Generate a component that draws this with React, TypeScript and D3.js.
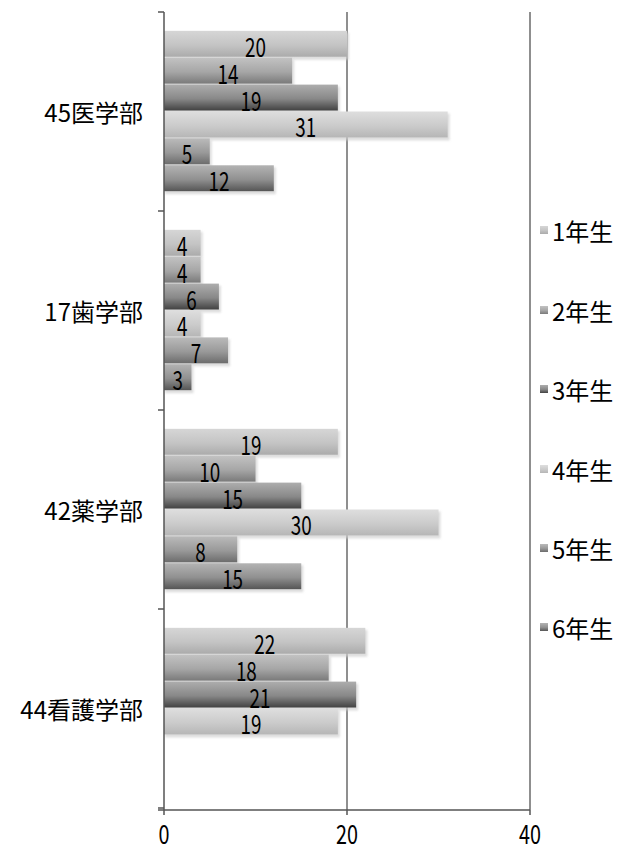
import React from "react";
import * as d3 from "d3";

// Faculties (top to bottom) with their enrolment totals as part of the label
const categories = ["45医学部", "17歯学部", "42薬学部", "44看護学部"];
const seriesNames = ["1年生", "2年生", "3年生", "4年生", "5年生", "6年生"];

// Students per year, one array per faculty (null = year does not exist)
const igakubu = [20, 14, 19, 31, 5, 12];
const shigakubu = [4, 4, 6, 4, 7, 3];
const yakugakubu = [19, 10, 15, 30, 8, 15];
const kangogakubu: (number | null)[] = [22, 18, 21, 19, null, null];
const values: (number | null)[][] = [igakubu, shigakubu, yakugakubu, kangogakubu];

const xTicks = [0, 20, 40];

// Grey gradient stops per year: [top, middle, bottom]
const seriesShades: [string, string, string][] = [
  ["#d6d6d6", "#c4c4c4", "#ababab"],
  ["#c2c2c2", "#a6a6a6", "#7a7a7a"],
  ["#adadad", "#888888", "#424242"],
  ["#dedede", "#cbcbcb", "#b6b6b6"],
  ["#bababa", "#999999", "#6c6c6c"],
  ["#b3b3b3", "#909090", "#555555"],
];

const W = 621;
const H = 851;
const FONT = "'Noto Sans CJK JP', 'Noto Sans', sans-serif";

export default function App() {
  const x = d3.scaleLinear().domain([0, 40]).range([164, 530]);
  const y = d3.scaleBand<string>().domain(categories).range([12, 808]).paddingInner(0).paddingOuter(0);
  const inner = d3
    .scaleBand<string>()
    .domain(seriesNames)
    .range([0, y.bandwidth()])
    .paddingInner(0)
    .paddingOuter(0.7);

  const boundaries = categories.map((c) => y(c) as number).concat([y.range()[1]]);
  const axisY = 810;
  const legendY = [230, 310, 389, 469, 548, 627];

  return (
    <svg
      width={W}
      height={H}
      style={{ position: "absolute", left: 0, top: 0, background: "#fff" }}
      fontFamily={FONT}
    >
      <defs>
        {seriesShades.map((s, i) => (
          <linearGradient key={i} id={`g${i}`} x1="0" y1="0" x2="0" y2="1">
            <stop offset="0" stopColor={s[0]} />
            <stop offset="0.55" stopColor={s[1]} />
            <stop offset="1" stopColor={s[2]} />
          </linearGradient>
        ))}
        <filter id="soft" x="-10%" y="-30%" width="120%" height="160%">
          <feGaussianBlur stdDeviation="1.2" />
        </filter>
      </defs>

      {/* vertical gridlines */}
      {xTicks.slice(1).map((t) => (
        <line key={t} x1={x(t)} x2={x(t)} y1={12} y2={axisY} stroke="#6a6a6a" strokeWidth={1.5} />
      ))}

      {/* bars */}
      {categories.map((c, ci) =>
        values[ci].map((v, si) => {
          if (v == null) return null;
          const by = (y(c) as number) + (inner(seriesNames[si]) as number);
          const bh = inner.bandwidth();
          return (
            <g key={`${ci}-${si}`}>
              <rect
                x={x(0) + 1}
                y={by + 2}
                width={x(v) - x(0) + 1}
                height={bh}
                fill="#cfcfcf"
                opacity={0.7}
                filter="url(#soft)"
              />
              <rect x={x(0)} y={by} width={x(v) - x(0)} height={bh - 1} fill={`url(#g${si})`} />
            </g>
          );
        })
      )}

      {/* value labels */}
      {categories.map((c, ci) =>
        values[ci].map((v, si) => {
          if (v == null) return null;
          const by = (y(c) as number) + (inner(seriesNames[si]) as number);
          const cx = x(v / 2);
          return (
            <text
              key={`t${ci}-${si}`}
              x={0}
              y={0}
              transform={`translate(${cx},${by + inner.bandwidth() / 2 + 1}) scale(0.82,1.15)`}
              textAnchor="middle"
              dominantBaseline="central"
              fontSize={23}
              fill="#000"
            >
              {v}
            </text>
          );
        })
      )}

      {/* category axis */}
      <line x1={x(0)} x2={x(0)} y1={12} y2={axisY} stroke="#555" strokeWidth={1.5} />
      {boundaries.map((b, i) => (
        <line key={i} x1={x(0) - 6} x2={x(0)} y1={b} y2={b} stroke="#555" strokeWidth={1.5} />
      ))}
      {categories.map((c) => (
        <text
          key={c}
          x={143}
          y={(y(c) as number) + y.bandwidth() / 2}
          textAnchor="end"
          dominantBaseline="central"
          fontSize={24}
          fill="#000"
        >
          {c}
        </text>
      ))}

      {/* value axis */}
      <line x1={x(0) - 6} x2={x(40)} y1={axisY} y2={axisY} stroke="#555" strokeWidth={1.5} />
      {xTicks.map((t) => (
        <g key={t}>
          <line x1={x(t)} x2={x(t)} y1={axisY} y2={axisY + 5} stroke="#555" strokeWidth={1.5} />
          <text
            x={0}
            y={0}
            transform={`translate(${x(t)},${833}) scale(0.86,1.12)`}
            textAnchor="middle"
            dominantBaseline="central"
            fontSize={23}
            fill="#000"
          >
            {t}
          </text>
        </g>
      ))}

      {/* legend */}
      {seriesNames.map((s, i) => (
        <g key={s}>
          <rect x={540} y={legendY[i] - 4} width={8} height={8} fill={`url(#g${i})`} />
          <text x={552} y={legendY[i]} dominantBaseline="central" fontSize={24} fill="#000">
            {s}
          </text>
        </g>
      ))}
    </svg>
  );
}
